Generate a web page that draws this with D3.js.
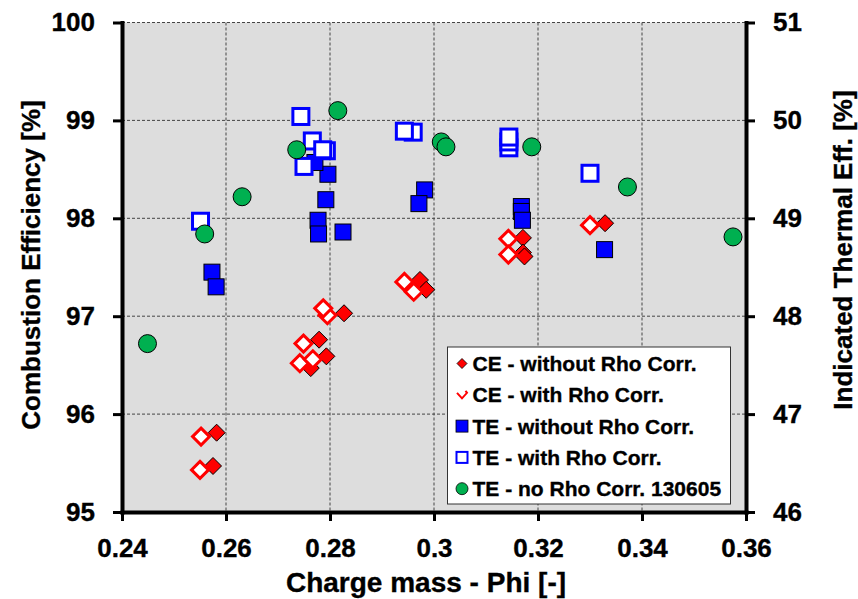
<!DOCTYPE html>
<html>
<head>
<meta charset="utf-8">
<script src="https://cdn.jsdelivr.net/npm/d3@7"></script>
<style>
  body { margin: 0; background: #fff; }
  svg text { font-family: "Liberation Sans", Arial, sans-serif; font-weight: bold; stroke: #000; stroke-width: 0.35px; }
</style>
</head>
<body>
<div class="svg-wrapper"></div>
<script>
// values: [phi, efficiency]
const ceWithout = [[0.2575,95.47],[0.2582,95.81],[0.2827,97.03],[0.2779,96.76],[0.2793,96.59],[0.2763,96.47],
  [0.2973,97.37],[0.2985,97.27],[0.3171,97.80],[0.3171,97.65],[0.3174,97.61],[0.3329,97.95]];
const ceWith = [[0.2550,95.43],[0.2552,95.77],[0.2795,97.01],[0.2787,97.08],[0.2749,96.72],[0.2742,96.52],
  [0.2767,96.56],[0.2943,97.35],[0.2961,97.25],[0.3143,97.79],[0.3143,97.63],[0.3300,97.93]];
const teWithout = [[0.2573,48.45],[0.2581,48.30],[0.2796,49.45],[0.2792,49.19],[0.2777,48.98],[0.2778,48.84],
  [0.2825,48.86],[0.2771,49.57],[0.2982,49.29],[0.2971,49.15],[0.3168,49.12],[0.3168,49.07],[0.3170,48.98],[0.3328,48.68]];
const teWith = [[0.2551,48.97],[0.2744,50.04],[0.2766,49.79],[0.2793,49.69],[0.2786,49.70],[0.2750,49.53],
  [0.2960,49.88],[0.2943,49.89],[0.3144,49.72],[0.3144,49.78],[0.3144,49.83],[0.3300,49.46]];
const teNoRho = [[0.2449,47.72],[0.2559,48.84],[0.2631,49.22],[0.2736,49.70],[0.2815,50.10],[0.3014,49.78],
  [0.3023,49.73],[0.3188,49.73],[0.3372,49.32],[0.3575,48.81]];

const xTicks = [0.24, 0.26, 0.28, 0.30, 0.32, 0.34, 0.36];
const yLeftTicks = [95, 96, 97, 98, 99, 100];
const yRightTicks = [46, 47, 48, 49, 50, 51];
const legendLabels = ["CE - without Rho Corr.", "CE - with Rho Corr.", "TE - without Rho Corr.",
  "TE - with Rho Corr.", "TE - no Rho Corr. 130605"];

const width = 858, height = 599;
const margin = {top: 22.5, right: 112, bottom: 87, left: 122};
const innerWidth = width - margin.left - margin.right;
const innerHeight = height - margin.top - margin.bottom;

const svg = d3.select(".svg-wrapper").append("svg")
  .attr("width", width).attr("height", height);

const xScale = d3.scaleLinear().domain([0.24, 0.36]).range([0, innerWidth]);
const yLeft = d3.scaleLinear().domain([95, 100]).range([innerHeight, 0]);
const yRight = d3.scaleLinear().domain([46, 51]).range([innerHeight, 0]);

const g = svg.append("g").attr("transform", `translate(${margin.left},${margin.top})`);

g.append("rect").attr("width", innerWidth).attr("height", innerHeight).attr("fill", "#dddddd");

// dashed grid
g.selectAll(".vgrid").data(xTicks.slice(1, -1)).enter().append("line")
  .attr("x1", d => xScale(d)).attr("x2", d => xScale(d))
  .attr("y1", 0).attr("y2", innerHeight)
  .attr("stroke", "#444").attr("stroke-width", 1).attr("stroke-dasharray", "3,2");
g.selectAll(".hgrid").data(yLeftTicks.slice(1)).enter().append("line")
  .attr("x1", 0).attr("x2", innerWidth)
  .attr("y1", d => yLeft(d)).attr("y2", d => yLeft(d))
  .attr("stroke", "#444").attr("stroke-width", 1).attr("stroke-dasharray", "3,2");

const styleAxis = function(sel){
  sel.attr("font-family", null).attr("font-size", null);
  sel.select(".domain").attr("stroke", "#000").attr("stroke-width", 4);
  sel.selectAll(".tick line").attr("stroke", "#000").attr("stroke-width", 3);
  sel.selectAll(".tick text").attr("fill", "#000").style("font-size", "26px");
};

g.append("g").call(d3.axisLeft(yLeft).tickValues(yLeftTicks).tickFormat(d3.format("d"))
    .tickSize(9).tickSizeOuter(0).tickPadding(18)).call(styleAxis);
g.append("g").attr("transform", `translate(${innerWidth},0)`)
  .call(d3.axisRight(yRight).tickValues(yRightTicks).tickFormat(d3.format("d"))
    .tickSize(9).tickSizeOuter(0).tickPadding(18)).call(styleAxis);
g.append("g").attr("transform", `translate(0,${innerHeight})`)
  .call(d3.axisBottom(xScale).tickValues(xTicks).tickFormat(d => d3.format(".2f")(d).replace(/0$/, ""))
    .tickSize(9).tickSizeOuter(0).tickPadding(18)).call(styleAxis);
g.selectAll(".domain").attr("stroke-linecap", "square");

// axis titles
svg.append("text").attr("transform", "translate(39.5,265) rotate(-90)")
  .attr("text-anchor", "middle").style("font-size", "26px").text("Combustion Efficiency [%]");
svg.append("text").attr("transform", "translate(851.5,250) rotate(-90)")
  .attr("text-anchor", "middle").style("font-size", "26px").text("Indicated Thermal Eff. [%]");
svg.append("text").attr("x", 426).attr("y", 591.5)
  .attr("text-anchor", "middle").style("font-size", "28px").text("Charge mass - Phi [-]");

const diamond = r => `M0,${-r}L${r},0L0,${r}L${-r},0Z`;

// series, in legend order
g.selectAll(".ce-without").data(ceWithout).enter().append("path")
  .attr("transform", d => `translate(${xScale(d[0])},${yLeft(d[1])})`)
  .attr("d", diamond(8.5)).attr("fill", "#ff0000").attr("stroke", "#000").attr("stroke-width", 1);
g.selectAll(".ce-with").data(ceWith).enter().append("path")
  .attr("transform", d => `translate(${xScale(d[0])},${yLeft(d[1])})`)
  .attr("d", diamond(8.5)).attr("fill", "#fff").attr("stroke", "#ff0000").attr("stroke-width", 3);
g.selectAll(".te-without").data(teWithout).enter().append("rect")
  .attr("x", d => xScale(d[0]) - 8).attr("y", d => yRight(d[1]) - 8)
  .attr("width", 16).attr("height", 16)
  .attr("fill", "#0000ff").attr("stroke", "#000").attr("stroke-width", 1);
g.selectAll(".te-with").data(teWith).enter().append("rect")
  .attr("x", d => xScale(d[0]) - 8).attr("y", d => yRight(d[1]) - 8)
  .attr("width", 16).attr("height", 16)
  .attr("fill", "#fff").attr("stroke", "#0000ff").attr("stroke-width", 3);
g.selectAll(".te-norho").data(teNoRho).enter().append("circle")
  .attr("cx", d => xScale(d[0])).attr("cy", d => yRight(d[1])).attr("r", 9)
  .attr("fill", "#00b050").attr("stroke", "#000").attr("stroke-width", 1);

// legend
const legend = svg.append("g").attr("transform", "translate(447.5,347)");
legend.append("rect").attr("width", 283).attr("height", 157)
  .attr("fill", "#fff").attr("stroke", "#333").attr("stroke-width", 1);

const rowY = i => 16.5 + i * 31.3;
const mx = 14.5;
legend.append("path").attr("transform", `translate(${mx},${rowY(0)})`)
  .attr("d", diamond(5)).attr("fill", "#ff0000").attr("stroke", "#000").attr("stroke-width", 0.8);
legend.append("path").attr("transform", `translate(${mx},${rowY(1)})`)
  .attr("d", "M-5,-2L0,3.5L5,-2L3.5,-4").attr("fill", "none").attr("stroke", "#ff0000").attr("stroke-width", 2);
legend.append("rect").attr("x", mx - 6).attr("y", rowY(2) - 6).attr("width", 12).attr("height", 12)
  .attr("fill", "#0000ff").attr("stroke", "#000").attr("stroke-width", 0.8);
legend.append("rect").attr("x", mx - 5.5).attr("y", rowY(3) - 5.5).attr("width", 11).attr("height", 11)
  .attr("fill", "#fff").attr("stroke", "#0000ff").attr("stroke-width", 2);
legend.append("circle").attr("cx", mx).attr("cy", rowY(4)).attr("r", 6)
  .attr("fill", "#00b050").attr("stroke", "#000").attr("stroke-width", 0.8);

legend.selectAll(".legend-text").data(legendLabels).enter().append("text")
  .attr("x", 25).attr("y", (d, i) => rowY(i)).attr("dy", "0.36em")
  .style("font-size", "21px").text(d => d);
</script>
</body>
</html>
